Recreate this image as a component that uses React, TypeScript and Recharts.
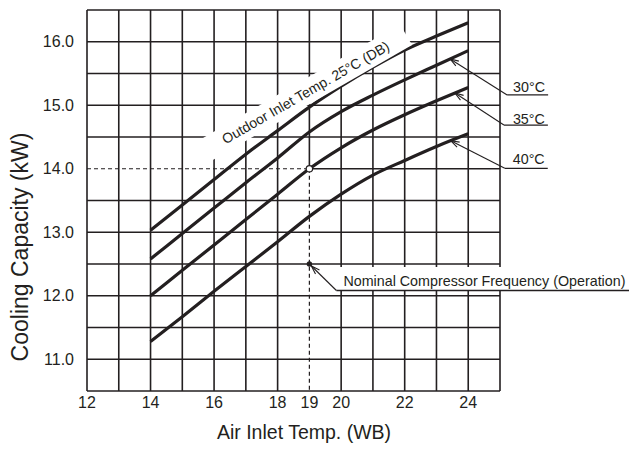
import React from "react";
import {
  LineChart,
  Line,
  XAxis,
  YAxis,
  CartesianGrid,
  ReferenceLine,
  ReferenceDot,
} from "recharts";

// indoor air inlet temp (WB) and cooling capacity (kW) per outdoor temp
const wbTemps = [14, 15, 16, 17, 18, 19, 20, 21, 22, 23, 24];
const cap25 = [13.03, 13.43, 13.83, 14.23, 14.6, 14.97, 15.3, 15.6, 15.87, 16.09, 16.3];
const cap30 = [12.58, 12.98, 13.38, 13.78, 14.17, 14.58, 14.9, 15.16, 15.4, 15.63, 15.86];
const cap35 = [12.0, 12.4, 12.8, 13.2, 13.6, 14.0, 14.33, 14.61, 14.85, 15.07, 15.28];
const cap40 = [11.28, 11.67, 12.07, 12.46, 12.85, 13.25, 13.6, 13.9, 14.13, 14.35, 14.55];

const xTicks = [12, 14, 16, 18, 19, 20, 22, 24];
const yTicks = [11, 12, 13, 14, 15, 16];
const xGrid = [12, 13, 14, 15, 16, 17, 18, 20, 21, 22, 23, 24, 25];
const yGrid = [10.5, 11, 11.5, 12, 12.5, 13, 13.5, 14.5, 15, 15.5, 16, 16.5];

const ratedWB = 19;
const ratedCap = 14.0;
const nominalCap = 12.5;

const data = wbTemps.map((t, i) => ({
  wb: t,
  c25: cap25[i],
  c30: cap30[i],
  c35: cap35[i],
  c40: cap40[i],
}));

const INK = "#231f20";
const FONT = '"Liberation Sans", Arial, Helvetica, sans-serif';

const valueAt = (ys: number[], x: number) => {
  for (let i = 0; i < wbTemps.length - 1; i++) {
    if (x >= wbTemps[i] && x <= wbTemps[i + 1]) {
      const f = (x - wbTemps[i]) / (wbTemps[i + 1] - wbTemps[i]);
      return ys[i] + f * (ys[i + 1] - ys[i]);
    }
  }
  return ys[ys.length - 1];
};

const arrowHead = (x: number, y: number, fx: number, fy: number) => {
  const a = Math.atan2(fy - y, fx - x);
  const len = 9;
  const s = 0.32;
  return `M${x + len * Math.cos(a - s)},${y + len * Math.sin(a - s)} L${x},${y} L${
    x + len * Math.cos(a + s)
  },${y + len * Math.sin(a + s)}`;
};

const leaderShape =
  (label: string, ex: number, ey: number, endX: number, tx: number, ty: number) =>
  (p: any) => {
    const { cx, cy } = p;
    return (
      <g>
        <path d={arrowHead(cx, cy, cx + ex, cy + ey)} fill="none" stroke={INK} strokeWidth={1.1} />
        <line x1={cx} y1={cy} x2={cx + ex} y2={cy + ey} stroke={INK} strokeWidth={1.1} />
        <line x1={cx + ex} y1={cy + ey} x2={cx + endX} y2={cy + ey} stroke={INK} strokeWidth={1.3} />
        <text x={cx + tx} y={cy + ty} fontSize={14.3} fill={INK} fontFamily={FONT}>
          {label}
        </text>
      </g>
    );
  };

const outdoorLabel = (p: any) => {
  const { cx, cy } = p;
  return (
    <g transform={`rotate(-30 ${cx} ${cy})`}>
      <rect x={cx - 116} y={cy - 12} width={232} height={24} fill="#fff" />
      <text
        x={cx}
        y={cy}
        textAnchor="middle"
        dominantBaseline="central"
        fontSize={14}
        fill={INK}
        fontFamily={FONT}
      >
        Outdoor Inlet Temp. 25°C (DB)
      </text>
    </g>
  );
};

const nominalShape = (p: any) => {
  const { cx, cy } = p;
  return (
    <g>
      <rect x={cx + 29} y={cy + 3} width={300} height={23} fill="#fff" />
      <circle cx={cx} cy={cy} r={2.7} fill={INK} />
      <path d={arrowHead(cx + 2, cy + 2, cx + 27, cy + 26.5)} fill="none" stroke={INK} strokeWidth={1.1} />
      <line x1={cx} y1={cy} x2={cx + 27} y2={cy + 26.5} stroke={INK} strokeWidth={1.1} />
      <line x1={cx + 27} y1={cy + 26.5} x2={cx + 322} y2={cy + 26.5} stroke={INK} strokeWidth={1.3} />
      <text x={cx + 34} y={cy + 21.5} fontSize={14.3} fill={INK} fontFamily={FONT}>
        Nominal Compressor Frequency (Operation)
      </text>
    </g>
  );
};

const ratedCircle = (p: any) => (
  <circle cx={p.cx} cy={p.cy} r={3.2} fill="#fff" stroke={INK} strokeWidth={1.2} />
);

const CapacityChart: React.FC = () => {
  return (
    <div style={{ position: "absolute", left: 0, top: 0, background: "#fff" }}>
      <LineChart
        width={629}
        height={450}
        data={data}
        margin={{ top: 10, right: 129, bottom: 29, left: 7 }}
        style={{ fontFamily: FONT }}
      >
        <CartesianGrid
          stroke={INK}
          strokeWidth={1.6}
          verticalValues={xGrid}
          horizontalValues={yGrid}
        />
        <XAxis
          dataKey="wb"
          type="number"
          domain={[12, 25]}
          ticks={xTicks}
          allowDataOverflow
          axisLine={false}
          tickLine={false}
          tickSize={0}
          tickMargin={6}
          height={30}
          tick={{ fill: INK, fontSize: 16 }}
          label={{
            content: () => (
              <text x={304} y={438.5} textAnchor="middle" fontSize={19.5} fill={INK} fontFamily={FONT}>
                Air Inlet Temp. (WB)
              </text>
            ),
          }}
        />
        <YAxis
          type="number"
          domain={[10.5, 16.5]}
          ticks={yTicks}
          allowDataOverflow
          axisLine={false}
          tickLine={false}
          tickSize={0}
          tickMargin={13}
          width={80}
          tick={{ fill: INK, fontSize: 16 }}
          tickFormatter={(v: number) => v.toFixed(1)}
          label={{
            content: () => (
              <text
                x={28}
                y={247}
                transform="rotate(-90 28 247)"
                textAnchor="middle"
                fontSize={23}
                fill={INK}
                fontFamily={FONT}
              >
                Cooling Capacity (kW)
              </text>
            ),
          }}
        />

        {/* solid parts of the 14.0 / 19 grid lines */}
        <ReferenceLine
          segment={[
            { x: ratedWB, y: ratedCap },
            { x: 25, y: ratedCap },
          ]}
          stroke={INK}
          strokeWidth={1.6}
        />
        <ReferenceLine
          segment={[
            { x: ratedWB, y: ratedCap },
            { x: ratedWB, y: 16.5 },
          ]}
          stroke={INK}
          strokeWidth={1.6}
        />
        {/* dashed rating guides */}
        <ReferenceLine
          segment={[
            { x: 12, y: ratedCap },
            { x: ratedWB, y: ratedCap },
          ]}
          stroke={INK}
          strokeWidth={1.2}
          strokeDasharray="4 3"
        />
        <ReferenceLine
          segment={[
            { x: ratedWB, y: ratedCap },
            { x: ratedWB, y: 10.5 },
          ]}
          stroke={INK}
          strokeWidth={1.2}
          strokeDasharray="4 3"
        />

        <ReferenceDot x={18.88} y={15.2} ifOverflow="visible" shape={outdoorLabel} />
        <ReferenceDot x={ratedWB} y={nominalCap} ifOverflow="visible" shape={nominalShape} />

        <Line type="monotone" dataKey="c25" stroke={INK} strokeWidth={3.2} dot={false} isAnimationActive={false} />
        <Line type="monotone" dataKey="c30" stroke={INK} strokeWidth={3.2} dot={false} isAnimationActive={false} />
        <Line type="monotone" dataKey="c35" stroke={INK} strokeWidth={3.2} dot={false} isAnimationActive={false} />
        <Line type="monotone" dataKey="c40" stroke={INK} strokeWidth={3.2} dot={false} isAnimationActive={false} />

        <ReferenceDot
          x={23.43}
          y={valueAt(cap30, 23.43)}
          ifOverflow="visible"
          shape={leaderShape("30°C", 57, 36, 98, 63, 33)}
        />
        <ReferenceDot
          x={23.58}
          y={valueAt(cap35, 23.58)}
          ifOverflow="visible"
          shape={leaderShape("35°C", 49, 32, 93, 58, 31)}
        />
        <ReferenceDot
          x={23.45}
          y={valueAt(cap40, 23.45)}
          ifOverflow="visible"
          shape={leaderShape("40°C", 54, 27.5, 97, 62, 23)}
        />
        <ReferenceDot x={ratedWB} y={ratedCap} ifOverflow="visible" shape={ratedCircle} />
      </LineChart>
    </div>
  );
};

export default CapacityChart;
